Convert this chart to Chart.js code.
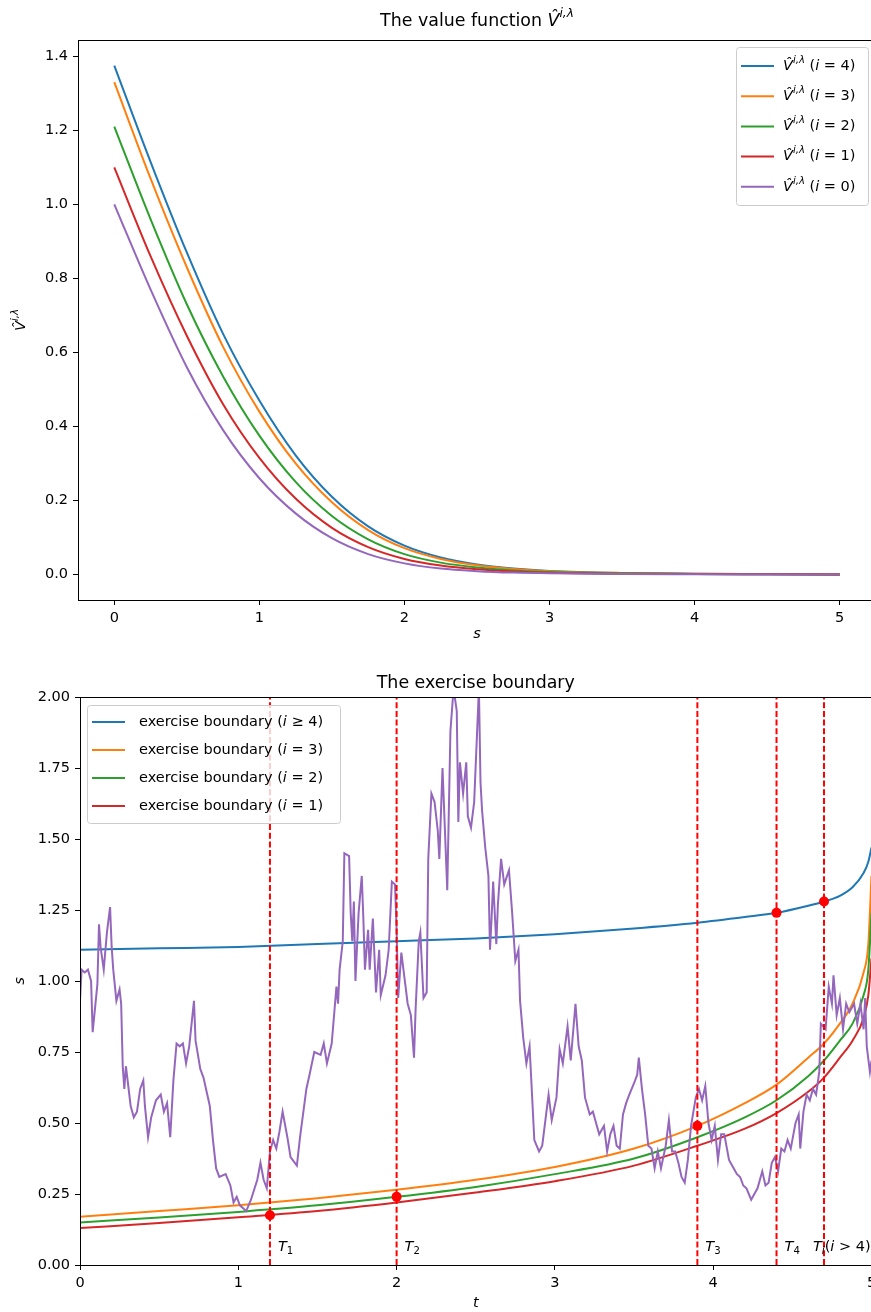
<!DOCTYPE html>
<html>
<head>
<meta charset="utf-8">
<script src="https://cdn.jsdelivr.net/npm/chart.js@4.4.1/dist/chart.umd.min.js"></script>
<style>
  html, body { margin: 0; padding: 0; background: #fff; }
  #wrap { position: relative; width: 871px; height: 1312px; overflow: hidden; }
  #valueChart { position: absolute; left: 0; top: 0; }
  #boundaryChart { position: absolute; left: 0; top: 650px; }
</style>
</head>
<body>
<div id="wrap">
  <canvas id="valueChart" width="900" height="650"></canvas>
  <canvas id="boundaryChart" width="900" height="662"></canvas>
</div>
<script>
"use strict";

// ---- top panel: value function ----
const valueS  = [0, 0.25, 0.5, 0.75, 1, 1.25, 1.5, 1.75, 2, 2.25, 2.5, 2.75, 3, 3.5, 4, 4.5, 5];
const valueI4 = [1.375, 1.115, 0.87, 0.65, 0.47, 0.322, 0.21, 0.13, 0.078, 0.046, 0.027, 0.016, 0.0095, 0.004, 0.002, 0.001, 0];
const valueI3 = [1.33, 1.07, 0.83, 0.615, 0.44, 0.30, 0.195, 0.12, 0.071, 0.042, 0.025, 0.015, 0.009, 0.004, 0.002, 0.001, 0];
const valueI2 = [1.21, 0.96, 0.73, 0.535, 0.375, 0.25, 0.158, 0.095, 0.055, 0.032, 0.019, 0.011, 0.0065, 0.003, 0.001, 0.0005, 0];
const valueI1 = [1.10, 0.86, 0.645, 0.46, 0.315, 0.205, 0.126, 0.074, 0.042, 0.024, 0.014, 0.008, 0.0046, 0.002, 0.001, 0.0005, 0];
const valueI0 = [1.00, 0.77, 0.56, 0.39, 0.26, 0.165, 0.098, 0.055, 0.030, 0.016, 0.009, 0.005, 0.003, 0.001, 0.0005, 0.0002, 0];
const valueXTicks = [0, 1, 2, 3, 4, 5];
const valueYTicks = [0, 0.2, 0.4, 0.6, 0.8, 1.0, 1.2, 1.4];

// ---- bottom panel: exercise boundary ----
const boundT  = [0, 0.5, 1, 1.5, 2, 2.5, 3, 3.5, 3.9, 4.2, 4.4, 4.6, 4.7, 4.8, 4.88, 4.95, 4.98, 5];
const boundI4 = [1.11, 1.115, 1.12, 1.13, 1.14, 1.15, 1.165, 1.185, 1.205, 1.225, 1.24, 1.265, 1.28, 1.30, 1.33, 1.38, 1.42, 1.47];
const boundI3 = [0.17, 0.19, 0.21, 0.235, 0.265, 0.30, 0.345, 0.41, 0.49, 0.57, 0.635, 0.73, 0.78, 0.85, 0.92, 1.03, 1.13, 1.37];
const boundI2 = [0.15, 0.167, 0.187, 0.21, 0.24, 0.275, 0.32, 0.375, 0.45, 0.52, 0.58, 0.665, 0.72, 0.79, 0.85, 0.95, 1.04, 1.24];
const boundI1 = [0.13, 0.148, 0.168, 0.19, 0.22, 0.255, 0.295, 0.35, 0.42, 0.48, 0.535, 0.61, 0.66, 0.73, 0.79, 0.87, 0.95, 1.08];

const pathT = [
  0.00, 0.01, 0.03, 0.05, 0.07, 0.08, 0.11, 0.12, 0.13, 0.15, 0.17, 0.19, 0.20, 0.21, 0.23, 0.25, 0.26, 0.27, 0.28, 0.29,
  0.32, 0.34, 0.36, 0.38, 0.40, 0.41, 0.43, 0.45, 0.48, 0.51, 0.53, 0.55, 0.57, 0.59, 0.61, 0.63, 0.65, 0.67, 0.69, 0.72,
  0.73, 0.76, 0.78, 0.82, 0.84, 0.86, 0.88, 0.92, 0.95, 0.97, 0.99, 1.01, 1.05, 1.08, 1.12, 1.14, 1.16, 1.18, 1.20, 1.22,
  1.24, 1.26, 1.28, 1.31, 1.33, 1.37, 1.39, 1.43, 1.45, 1.48, 1.52, 1.54, 1.56, 1.59,
  1.62, 1.63, 1.64, 1.66, 1.67, 1.70, 1.71, 1.72, 1.73, 1.74, 1.76, 1.78, 1.79, 1.80, 1.82, 1.83, 1.85, 1.87, 1.89, 1.90,
  1.93, 1.95, 1.97, 1.99, 2.00, 2.01, 2.03, 2.05, 2.07, 2.09, 2.11, 2.12, 2.14, 2.15, 2.17, 2.19, 2.20, 2.22, 2.24, 2.26,
  2.27, 2.29, 2.32, 2.34, 2.36, 2.38, 2.39, 2.40, 2.42, 2.44, 2.45, 2.47, 2.49, 2.52, 2.53, 2.54, 2.56, 2.58, 2.59, 2.60,
  2.61, 2.63, 2.64, 2.66, 2.68, 2.71, 2.73, 2.75, 2.77, 2.78, 2.80, 2.82, 2.84, 2.85, 2.87, 2.90, 2.92, 2.94, 2.96, 2.98,
  3.01, 3.03, 3.05, 3.08, 3.10, 3.13, 3.15, 3.17, 3.19,
  3.22, 3.24, 3.26, 3.28, 3.31, 3.33, 3.35, 3.37, 3.39, 3.41, 3.43, 3.45, 3.47, 3.50, 3.52, 3.53, 3.55, 3.57, 3.59, 3.61,
  3.63, 3.65, 3.67, 3.70, 3.72, 3.74, 3.76, 3.78, 3.80, 3.82, 3.84, 3.86, 3.89, 3.91, 3.93, 3.95, 3.97, 3.99, 4.01, 4.03,
  4.05, 4.07, 4.10, 4.13, 4.15, 4.17, 4.19, 4.21, 4.24, 4.26, 4.28, 4.31, 4.33, 4.35, 4.37, 4.39, 4.41, 4.43, 4.45, 4.47,
  4.49, 4.52, 4.54, 4.55, 4.57, 4.59, 4.61, 4.63, 4.65, 4.67, 4.68, 4.71, 4.73, 4.75, 4.76, 4.78, 4.80, 4.82, 4.84, 4.86,
  4.89, 4.91, 4.93, 4.95, 4.96, 4.97, 4.99, 5.00
];
const pathS = [
  0.93, 1.04, 1.03, 1.04, 1.00, 0.82, 0.99, 1.20, 1.12, 1.04, 1.17, 1.26, 1.12, 1.04, 0.93, 0.97, 0.92, 0.70, 0.62, 0.70,
  0.56, 0.52, 0.54, 0.62, 0.65, 0.56, 0.45, 0.52, 0.58, 0.60, 0.54, 0.57, 0.45, 0.65, 0.78, 0.77, 0.78, 0.71, 0.77, 0.93,
  0.79, 0.69, 0.66, 0.56, 0.44, 0.34, 0.31, 0.32, 0.28, 0.22, 0.24, 0.21, 0.19, 0.23, 0.30, 0.36, 0.30, 0.27, 0.40, 0.44,
  0.41, 0.47, 0.54, 0.45, 0.38, 0.35, 0.45, 0.62, 0.67, 0.75, 0.74, 0.78, 0.71, 0.78,
  0.98, 0.92, 1.04, 1.14, 1.45, 1.44, 1.24, 1.14, 1.28, 1.00, 1.24, 1.37, 1.22, 1.04, 1.18, 1.04, 1.22, 0.96, 1.11, 0.95,
  1.02, 1.11, 1.35, 1.34, 1.18, 0.94, 1.10, 1.01, 0.92, 0.88, 0.73, 0.90, 1.14, 1.17, 0.94, 0.96, 1.43, 1.66, 1.63, 1.53,
  1.43, 1.75, 1.32, 1.88, 2.03, 1.95, 1.56, 1.77, 1.66, 1.77, 1.58, 1.54, 1.63, 2.03, 1.70, 1.60, 1.47, 1.37, 1.11, 1.22,
  1.35, 1.13, 1.27, 1.43, 1.34, 1.39, 1.24, 1.07, 1.11, 0.93, 0.80, 0.71, 0.77, 0.66, 0.44, 0.40, 0.42, 0.51, 0.60, 0.51,
  0.59, 0.76, 0.71, 0.84, 0.72, 0.92, 0.77, 0.72, 0.59,
  0.53, 0.54, 0.50, 0.46, 0.49, 0.40, 0.46, 0.49, 0.42, 0.41, 0.53, 0.57, 0.60, 0.64, 0.67, 0.73, 0.62, 0.53, 0.42, 0.41,
  0.34, 0.40, 0.34, 0.42, 0.51, 0.40, 0.40, 0.36, 0.31, 0.29, 0.37, 0.49, 0.59, 0.62, 0.58, 0.63, 0.50, 0.44, 0.49, 0.37,
  0.46, 0.46, 0.37, 0.34, 0.32, 0.31, 0.28, 0.27, 0.23, 0.25, 0.27, 0.33, 0.28, 0.29, 0.36, 0.38, 0.33, 0.41, 0.40, 0.44,
  0.41, 0.50, 0.53, 0.41, 0.54, 0.60, 0.58, 0.62, 0.60, 0.68, 0.85, 0.83, 0.98, 0.92, 1.02, 0.88, 0.94, 0.83, 0.92, 0.89,
  0.92, 0.85, 0.92, 0.83, 0.94, 0.77, 0.68, 0.72
];

const stopT = [1.2, 2.0, 3.9, 4.4, 4.7];
const stopS = [0.175, 0.24, 0.49, 1.24, 1.28];
const stopNames = ["1", "2", "3", "4", "i"];
const boundXTicks = [0, 1, 2, 3, 4, 5];
const boundYTicks = [0, 0.25, 0.5, 0.75, 1.0, 1.25, 1.5, 1.75, 2.0];

const BLUE = "#1f77b4", ORANGE = "#ff7f0e", GREEN = "#2ca02c", RED = "#d62728", PURPLE = "#9467bd";
const FONT = '"DejaVu Sans", sans-serif';
const TXT = 14.5;

Chart.defaults.font.family = FONT;
Chart.defaults.color = "#000";

// little rich text helper, canvas has no sub/superscripts
const n = t => ({ t });
const it = t => ({ t, it: true });
const sup = t => ({ t, it: true, v: "sup" });
const sub = (t, italic) => ({ t, it: !!italic, v: "sub" });

const fontFor = (p, size) => (p.it ? "italic " : "") + (p.v ? size * 0.7 : size) + "px " + FONT;

function drawRich(ctx, parts, x, y, size, align) {
  let w = 0;
  parts.forEach(p => { ctx.font = fontFor(p, size); w += ctx.measureText(p.t).width; });
  let cx = align === "center" ? x - w / 2 : (align === "right" ? x - w : x);
  ctx.textAlign = "left";
  ctx.textBaseline = "middle";
  parts.forEach(p => {
    ctx.font = fontFor(p, size);
    const dy = p.v === "sup" ? -size * 0.4 : (p.v === "sub" ? size * 0.3 : 0);
    ctx.fillText(p.t, cx, y + dy);
    cx += ctx.measureText(p.t).width;
  });
}

const vhat = () => [it("V\u0302"), sup("i,\u03bb")];

// frame, titles and legend drawn on top of the chart
const decor = {
  id: "decor",
  afterDatasetsDraw(chart, args, opts) {
    const ctx = chart.ctx;
    const a = chart.chartArea;
    ctx.save();
    ctx.strokeStyle = "#000";
    ctx.lineWidth = 1;
    ctx.strokeRect(Math.round(a.left) + 0.5, Math.round(a.top) + 0.5, Math.round(a.right - a.left), Math.round(a.bottom - a.top));
    ctx.fillStyle = "#000";
    const cx = (a.left + a.right) / 2;
    drawRich(ctx, opts.title, cx, opts.titleY, 17.4, "center");
    drawRich(ctx, opts.xTitle, cx, opts.xTitleY, TXT, "center");
    ctx.save();
    ctx.translate(opts.yTitleX, (a.top + a.bottom) / 2);
    ctx.rotate(-Math.PI / 2);
    drawRich(ctx, opts.yTitle, 0, 0, TXT, "center");
    ctx.restore();

    const lg = opts.legend;
    ctx.beginPath();
    ctx.roundRect(lg.x + 0.5, lg.y + 0.5, lg.w, lg.h, 3);
    ctx.fillStyle = "rgba(255,255,255,0.8)";
    ctx.fill();
    ctx.strokeStyle = "#cccccc";
    ctx.lineWidth = 1;
    ctx.stroke();
    lg.items.forEach((item, k) => {
      const y = lg.y + lg.first + k * lg.step;
      ctx.strokeStyle = item.color;
      ctx.lineWidth = 2;
      ctx.beginPath();
      ctx.moveTo(lg.x + 5, y);
      ctx.lineTo(lg.x + 38, y);
      ctx.stroke();
      ctx.fillStyle = "#000";
      drawRich(ctx, item.parts, lg.x + lg.textX, y, TXT, "left");
    });
    ctx.restore();
  }
};

// T_k labels next to the dashed lines
const stopLabels = {
  id: "stopLabels",
  afterDatasetsDraw(chart) {
    const ctx = chart.ctx;
    const xs = chart.scales.x, ys = chart.scales.y;
    ctx.save();
    ctx.fillStyle = "#000";
    stopT.forEach((t, k) => {
      const last = k === stopT.length - 1;
      const parts = [it("T"), sub(stopNames[k], stopNames[k] === "i")];
      if (last) parts.push(n("("), it("i"), n(" > 4)"));
      const x = xs.getPixelForValue(t) + (last ? -11 : 8);
      drawRich(ctx, parts, x, ys.getPixelForValue(0.063), TXT, "left");
    });
    ctx.restore();
  }
};

function axis(min, max, ticks, fmt, size) {
  return {
    type: "linear",
    min: min,
    max: max,
    afterBuildTicks: s => { s.ticks = ticks.map(v => ({ value: v })); },
    afterFit: s => { if (s.isHorizontal()) { s.height = size; } else { s.width = size; } },
    ticks: { callback: fmt, font: { size: TXT }, color: "#000", padding: 5, maxRotation: 0, autoSkip: false },
    grid: { drawOnChartArea: false, drawTicks: true, tickLength: 5, tickColor: "#000" },
    border: { display: true, color: "#000", width: 1 },
  };
}

const curve = (xs, ys, color, order) => ({
  data: xs.map((x, k) => ({ x: x, y: ys[k] })),
  borderColor: color,
  borderWidth: 2,
  pointRadius: 0,
  cubicInterpolationMode: "monotone",
  fill: false,
  order: order,
});

const common = {
  responsive: false,
  animation: false,
  devicePixelRatio: 1,
  events: [],
};

new Chart(document.getElementById("valueChart"), {
  type: "line",
  data: {
    datasets: [
      curve(valueS, valueI4, BLUE, 5),
      curve(valueS, valueI3, ORANGE, 4),
      curve(valueS, valueI2, GREEN, 3),
      curve(valueS, valueI1, RED, 2),
      curve(valueS, valueI0, PURPLE, 1),
    ],
  },
  options: {
    ...common,
    layout: { padding: { top: 40, right: 24, left: 0, bottom: 0 } },
    scales: {
      x: axis(-0.25, 5.25, valueXTicks, v => String(v), 50),
      y: axis(-0.069, 1.444, valueYTicks, v => v.toFixed(1), 78),
    },
    plugins: {
      legend: { display: false },
      tooltip: { enabled: false },
      decor: {
        title: [n("The value function ")].concat(vhat()),
        titleY: 21,
        xTitle: [it("s")],
        xTitleY: 634,
        yTitle: vhat(),
        yTitleX: 21,
        legend: {
          x: 736, y: 47, w: 132, h: 158, first: 19, step: 30.2, textX: 47,
          items: [4, 3, 2, 1, 0].map((i, k) => ({
            color: [BLUE, ORANGE, GREEN, RED, PURPLE][k],
            parts: vhat().concat([n(" ("), it("i"), n(" = " + i + ")")]),
          })),
        },
      },
    },
  },
  plugins: [decor],
});

new Chart(document.getElementById("boundaryChart"), {
  type: "line",
  data: {
    datasets: [
      curve(boundT, boundI4, BLUE, 9),
      curve(boundT, boundI3, ORANGE, 8),
      curve(boundT, boundI2, GREEN, 7),
      curve(boundT, boundI1, RED, 6),
      {
        data: pathT.map((t, k) => ({ x: t, y: pathS[k] })),
        borderColor: PURPLE,
        borderWidth: 2,
        pointRadius: 0,
        tension: 0,
        order: 5,
      },
    ].concat(stopT.map(t => ({
      data: [{ x: t, y: 0 }, { x: t, y: 2 }],
      borderColor: "#ff0000",
      borderWidth: 2,
      borderDash: [6, 2.7],
      pointRadius: 0,
      order: 2,
    }))).concat([{
      data: stopT.map((t, k) => ({ x: t, y: stopS[k] })),
      showLine: false,
      pointRadius: 5,
      pointBackgroundColor: "#ff0000",
      pointBorderWidth: 0,
      order: 0,
    }]),
  },
  options: {
    ...common,
    layout: { padding: { top: 47, right: 28.5, left: 0, bottom: 0 } },
    scales: {
      x: axis(0, 5, boundXTicks, v => String(v), 47),
      y: axis(0, 2, boundYTicks, v => v.toFixed(2), 80),
    },
    plugins: {
      legend: { display: false },
      tooltip: { enabled: false },
      decor: {
        title: [n("The exercise boundary")],
        titleY: 33,
        xTitle: [it("t")],
        xTitleY: 653,
        yTitle: [it("s")],
        yTitleX: 20,
        legend: {
          x: 87, y: 55, w: 253, h: 118, first: 17, step: 28, textX: 52,
          items: [
            { color: BLUE, parts: [n("exercise boundary ("), it("i"), n(" \u2265 4)")] },
            { color: ORANGE, parts: [n("exercise boundary ("), it("i"), n(" = 3)")] },
            { color: GREEN, parts: [n("exercise boundary ("), it("i"), n(" = 2)")] },
            { color: RED, parts: [n("exercise boundary ("), it("i"), n(" = 1)")] },
          ],
        },
      },
    },
  },
  plugins: [decor, stopLabels],
});
</script>
</body>
</html>
